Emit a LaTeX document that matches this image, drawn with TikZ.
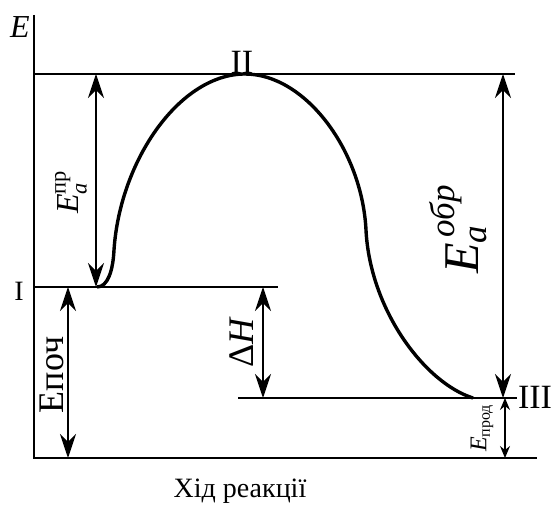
\documentclass[tikz,border=0pt]{standalone}
\usepackage{amsmath}
\usepackage{fontspec}
\setmainfont{Liberation Serif}
\usetikzlibrary{arrows.meta}
\tikzset{
  axisline/.style={line width=1pt},
  levelline/.style={line width=0.9pt},
  barrier/.style={line width=1.7pt,line join=round},
  dimarrow/.style={{Stealth[length=12pt,width=8pt,inset=4pt]}-{Stealth[length=12pt,width=8pt,inset=4pt]},line width=0.6pt},
  smallarrow/.style={{Stealth[length=6pt,width=5pt,inset=2pt]}-{Stealth[length=6pt,width=5pt,inset=2pt]},line width=0.6pt},
}
\newcommand{\fsz}[1]{\fontsize{#1}{#1}\selectfont}

\begin{document}
\begin{tikzpicture}[x=0.5pt,y=-0.5pt]
  \useasboundingbox (0,0) rectangle (553,508);
  % axes
  \coordinate (Etop) at (34,15);
  \coordinate (O) at (34,458);
  \coordinate (Xend) at (537,458);
  \draw[axisline] (Etop) -- (O) -- (Xend);
  \node[font=\fsz{16}\itshape] (Elab) at (20,27) {E};
  \node[font=\fsz{14}] (xlab) at (240,491) {Хід реакції};
  % energy levels
  \coordinate (IIa) at (34,74);   \coordinate (IIb) at (515,74);
  \coordinate (Ia) at (34,287);   \coordinate (Ib) at (278,287);
  \coordinate (IIIa) at (238,398); \coordinate (IIIb) at (517,398);
  \draw[levelline] (IIa) -- (IIb) (Ia) -- (Ib) (IIIa) -- (IIIb);
  \node[font=\fsz{14}] (I) at (19,291) {I};
  \node[font=\fsz{17}] (II) at (242,62) {II};
  \node[font=\fsz{17}] (III) at (535,397) {III};
  % reaction path
  \draw[barrier] (97,287) .. controls (108,287) and (113,270) .. (114,250)
    .. controls (120,160) and (180,74) .. (245,74)
    .. controls (305,74) and (362,150) .. (366,230)
    .. controls (370,310) and (425,383) .. (473,398);
  % activation energy, forward
  \coordinate (fa) at (96,74);  \coordinate (fb) at (96,287);
  \draw[dimarrow] (fa) -- (fb);
  \node[rotate=90,font=\fsz{16}] (Efwd) at (71,192) {$\textit{E}^{\text{пр}}_{\textit{a}}$};
  % initial energy
  \coordinate (pa) at (68,287); \coordinate (pb) at (68,458);
  \draw[dimarrow] (pa) -- (pb);
  \node[rotate=90,font=\fsz{18}] (Epoch) at (52,375) {Епоч};
  % enthalpy
  \coordinate (ha) at (263,287); \coordinate (hb) at (263,398);
  \draw[dimarrow] (ha) -- (hb);
  \node[rotate=90,font=\fsz{18}] (dH) at (242,342) {Δ\textit{H}};
  % activation energy, reverse
  \coordinate (ra) at (503,74); \coordinate (rb) at (503,398);
  \draw[dimarrow] (ra) -- (rb);
  \node[rotate=90,font=\fsz{25}] (Erev) at (458,229) {$\textit{E}^{\,\textit{обр}}_{\textit{a}}$};
  % product energy
  \coordinate (ea) at (505,398); \coordinate (eb) at (505,458);
  \draw[smallarrow] (ea) -- (eb);
  \node[rotate=90,font=\fsz{12}] (Eprod) at (482,428) {$\textit{E}_{\text{прод}}$};
\end{tikzpicture}
\end{document}
